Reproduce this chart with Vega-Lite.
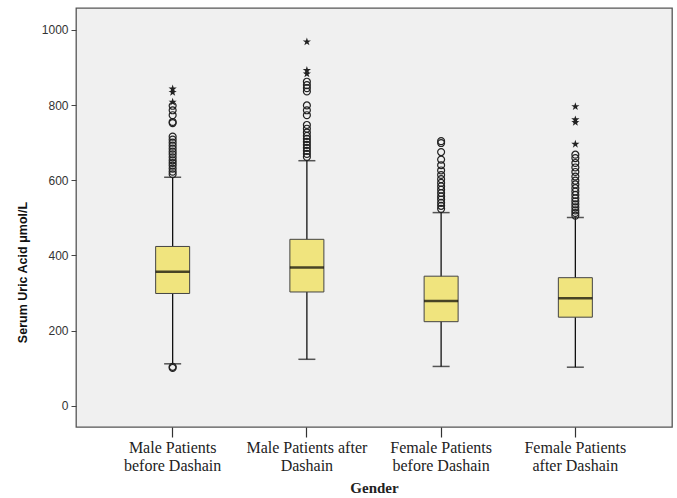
{
  "$schema": "https://vega.github.io/schema/vega-lite/v6.json",
  "autosize": "none",
  "width": 596,
  "height": 419,
  "padding": {"left": 76, "top": 8, "right": 5, "bottom": 71},
  "background": "white",
  "config": {
    "view": {"fill": "#F0F0F0", "stroke": "#555555", "strokeWidth": 1.3},
    "axisX": {
      "labelFont": "Liberation Serif", "labelFontSize": 16, "labelColor": "#222222", "labelAngle": 0,
      "labelLineHeight": 18, "labelPadding": 2, "labelLimit": 0,
      "tickSize": 10, "tickColor": "#333333", "tickWidth": 1.2, "domain": false, "grid": false,
      "titleFont": "Liberation Serif", "titleFontSize": 15, "titleFontWeight": "bold", "titleColor": "#222222", "titlePadding": 7
    },
    "axisY": {
      "labelFont": "Liberation Sans", "labelFontSize": 12, "labelColor": "#333333", "labelPadding": 3,
      "tickSize": 5, "tickColor": "#444444", "domain": false, "grid": false,
      "titleFont": "Liberation Sans", "titleFontSize": 12.5, "titleFontWeight": "bold", "titleColor": "#111111",
      "titleX": -54, "titleY": 264, "titleAlign": "center", "titleBaseline": "middle", "titleAngle": -90
    }
  },
  "datasets": {
    "boxes": [
      {"group": "Male Patients before Dashain", "lower": 112, "q1": 299, "median": 357, "q3": 424, "upper": 608},
      {"group": "Male Patients after Dashain", "lower": 124, "q1": 303, "median": 368, "q3": 443, "upper": 652},
      {"group": "Female Patients before Dashain", "lower": 105, "q1": 224, "median": 279, "q3": 345, "upper": 514},
      {"group": "Female Patients after Dashain", "lower": 103, "q1": 236, "median": 286, "q3": 341, "upper": 501}
    ],
    "outliers": [
      {"group": "Male Patients before Dashain", "value": 101, "type": "circle"},
      {"group": "Male Patients before Dashain", "value": 104, "type": "circle"},
      {"group": "Male Patients before Dashain", "value": 616, "type": "circle"},
      {"group": "Male Patients before Dashain", "value": 623, "type": "circle"},
      {"group": "Male Patients before Dashain", "value": 631, "type": "circle"},
      {"group": "Male Patients before Dashain", "value": 639, "type": "circle"},
      {"group": "Male Patients before Dashain", "value": 646, "type": "circle"},
      {"group": "Male Patients before Dashain", "value": 653, "type": "circle"},
      {"group": "Male Patients before Dashain", "value": 661, "type": "circle"},
      {"group": "Male Patients before Dashain", "value": 669, "type": "circle"},
      {"group": "Male Patients before Dashain", "value": 676, "type": "circle"},
      {"group": "Male Patients before Dashain", "value": 684, "type": "circle"},
      {"group": "Male Patients before Dashain", "value": 692, "type": "circle"},
      {"group": "Male Patients before Dashain", "value": 700, "type": "circle"},
      {"group": "Male Patients before Dashain", "value": 708, "type": "circle"},
      {"group": "Male Patients before Dashain", "value": 716, "type": "circle"},
      {"group": "Male Patients before Dashain", "value": 752, "type": "circle"},
      {"group": "Male Patients before Dashain", "value": 755, "type": "circle"},
      {"group": "Male Patients before Dashain", "value": 773, "type": "circle"},
      {"group": "Male Patients before Dashain", "value": 786, "type": "circle"},
      {"group": "Male Patients before Dashain", "value": 798, "type": "circle"},
      {"group": "Male Patients before Dashain", "value": 808, "type": "star"},
      {"group": "Male Patients before Dashain", "value": 834, "type": "star"},
      {"group": "Male Patients before Dashain", "value": 843, "type": "star"},
      {"group": "Male Patients after Dashain", "value": 662, "type": "circle"},
      {"group": "Male Patients after Dashain", "value": 670, "type": "circle"},
      {"group": "Male Patients after Dashain", "value": 678, "type": "circle"},
      {"group": "Male Patients after Dashain", "value": 686, "type": "circle"},
      {"group": "Male Patients after Dashain", "value": 694, "type": "circle"},
      {"group": "Male Patients after Dashain", "value": 702, "type": "circle"},
      {"group": "Male Patients after Dashain", "value": 710, "type": "circle"},
      {"group": "Male Patients after Dashain", "value": 718, "type": "circle"},
      {"group": "Male Patients after Dashain", "value": 727, "type": "circle"},
      {"group": "Male Patients after Dashain", "value": 737, "type": "circle"},
      {"group": "Male Patients after Dashain", "value": 747, "type": "circle"},
      {"group": "Male Patients after Dashain", "value": 773, "type": "circle"},
      {"group": "Male Patients after Dashain", "value": 786, "type": "circle"},
      {"group": "Male Patients after Dashain", "value": 799, "type": "circle"},
      {"group": "Male Patients after Dashain", "value": 836, "type": "circle"},
      {"group": "Male Patients after Dashain", "value": 845, "type": "circle"},
      {"group": "Male Patients after Dashain", "value": 853, "type": "circle"},
      {"group": "Male Patients after Dashain", "value": 862, "type": "circle"},
      {"group": "Male Patients after Dashain", "value": 883, "type": "star"},
      {"group": "Male Patients after Dashain", "value": 892, "type": "star"},
      {"group": "Male Patients after Dashain", "value": 968, "type": "star"},
      {"group": "Female Patients before Dashain", "value": 524, "type": "circle"},
      {"group": "Female Patients before Dashain", "value": 532, "type": "circle"},
      {"group": "Female Patients before Dashain", "value": 540, "type": "circle"},
      {"group": "Female Patients before Dashain", "value": 549, "type": "circle"},
      {"group": "Female Patients before Dashain", "value": 557, "type": "circle"},
      {"group": "Female Patients before Dashain", "value": 566, "type": "circle"},
      {"group": "Female Patients before Dashain", "value": 575, "type": "circle"},
      {"group": "Female Patients before Dashain", "value": 584, "type": "circle"},
      {"group": "Female Patients before Dashain", "value": 593, "type": "circle"},
      {"group": "Female Patients before Dashain", "value": 603, "type": "circle"},
      {"group": "Female Patients before Dashain", "value": 614, "type": "circle"},
      {"group": "Female Patients before Dashain", "value": 626, "type": "circle"},
      {"group": "Female Patients before Dashain", "value": 640, "type": "circle"},
      {"group": "Female Patients before Dashain", "value": 655, "type": "circle"},
      {"group": "Female Patients before Dashain", "value": 675, "type": "circle"},
      {"group": "Female Patients before Dashain", "value": 699, "type": "circle"},
      {"group": "Female Patients before Dashain", "value": 704, "type": "circle"},
      {"group": "Female Patients after Dashain", "value": 506, "type": "circle"},
      {"group": "Female Patients after Dashain", "value": 513, "type": "circle"},
      {"group": "Female Patients after Dashain", "value": 520, "type": "circle"},
      {"group": "Female Patients after Dashain", "value": 528, "type": "circle"},
      {"group": "Female Patients after Dashain", "value": 536, "type": "circle"},
      {"group": "Female Patients after Dashain", "value": 544, "type": "circle"},
      {"group": "Female Patients after Dashain", "value": 552, "type": "circle"},
      {"group": "Female Patients after Dashain", "value": 561, "type": "circle"},
      {"group": "Female Patients after Dashain", "value": 570, "type": "circle"},
      {"group": "Female Patients after Dashain", "value": 579, "type": "circle"},
      {"group": "Female Patients after Dashain", "value": 589, "type": "circle"},
      {"group": "Female Patients after Dashain", "value": 599, "type": "circle"},
      {"group": "Female Patients after Dashain", "value": 610, "type": "circle"},
      {"group": "Female Patients after Dashain", "value": 622, "type": "circle"},
      {"group": "Female Patients after Dashain", "value": 634, "type": "circle"},
      {"group": "Female Patients after Dashain", "value": 646, "type": "circle"},
      {"group": "Female Patients after Dashain", "value": 659, "type": "circle"},
      {"group": "Female Patients after Dashain", "value": 668, "type": "circle"},
      {"group": "Female Patients after Dashain", "value": 696, "type": "star"},
      {"group": "Female Patients after Dashain", "value": 754, "type": "star"},
      {"group": "Female Patients after Dashain", "value": 761, "type": "star"},
      {"group": "Female Patients after Dashain", "value": 796, "type": "star"}
    ]
  },
  "encoding": {
    "x": {
      "field": "group", "type": "nominal", "title": "Gender",
      "sort": ["Male Patients before Dashain", "Male Patients after Dashain", "Female Patients before Dashain", "Female Patients after Dashain"],
      "scale": {"paddingInner": 0.5, "paddingOuter": 0.47},
      "axis": {
        "labelExpr": "datum.value == 'Male Patients before Dashain' ? ['Male Patients', 'before Dashain'] : datum.value == 'Male Patients after Dashain' ? ['Male Patients after', 'Dashain'] : datum.value == 'Female Patients before Dashain' ? ['Female Patients', 'before Dashain'] : ['Female Patients', 'after Dashain']"
      }
    }
  },
  "layer": [
    {
      "data": {"name": "boxes"},
      "mark": {"type": "rule", "color": "#111111", "strokeWidth": 1.3},
      "encoding": {
        "y": {"field": "lower", "type": "quantitative", "title": "Serum Uric Acid μmol/L",
          "scale": {"domain": [-56, 1058], "nice": false, "zero": false},
          "axis": {"values": [0, 200, 400, 600, 800, 1000], "format": "d"}},
        "y2": {"field": "upper"}
      }
    },
    {
      "data": {"name": "boxes"},
      "mark": {"type": "tick", "color": "#111111", "size": 17, "thickness": 1.5},
      "encoding": {
        "y": {"field": "lower", "type": "quantitative", "title": "Serum Uric Acid μmol/L"}
      }
    },
    {
      "data": {"name": "boxes"},
      "mark": {"type": "tick", "color": "#111111", "size": 17, "thickness": 1.5},
      "encoding": {
        "y": {"field": "upper", "type": "quantitative", "title": "Serum Uric Acid μmol/L"}
      }
    },
    {
      "data": {"name": "boxes"},
      "mark": {"type": "bar", "width": 34, "fill": "#F0E47E", "stroke": "#444444", "strokeWidth": 1},
      "encoding": {
        "y": {"field": "q1", "type": "quantitative", "title": "Serum Uric Acid μmol/L"},
        "y2": {"field": "q3"}
      }
    },
    {
      "data": {"name": "boxes"},
      "mark": {"type": "tick", "color": "#000000", "size": 34, "thickness": 2.5},
      "encoding": {
        "y": {"field": "median", "type": "quantitative", "title": "Serum Uric Acid μmol/L"}
      }
    },
    {
      "data": {"name": "outliers"},
      "transform": [{"filter": "datum.type == 'circle'"}],
      "mark": {"type": "point", "shape": "circle", "filled": false, "stroke": "#222222", "strokeWidth": 1.2, "size": 48, "opacity": 1},
      "encoding": {
        "y": {"field": "value", "type": "quantitative", "title": "Serum Uric Acid μmol/L"}
      }
    },
    {
      "data": {"name": "outliers"},
      "transform": [{"filter": "datum.type == 'star'"}],
      "mark": {"type": "point", "shape": "M0,-1L0.225,-0.309L0.951,-0.309L0.363,0.118L0.588,0.809L0,0.382L-0.588,0.809L-0.363,0.118L-0.951,-0.309L-0.225,-0.309Z", "filled": true, "fill": "#222222", "size": 75, "opacity": 1},
      "encoding": {
        "y": {"field": "value", "type": "quantitative", "title": "Serum Uric Acid μmol/L"}
      }
    }
  ]
}
